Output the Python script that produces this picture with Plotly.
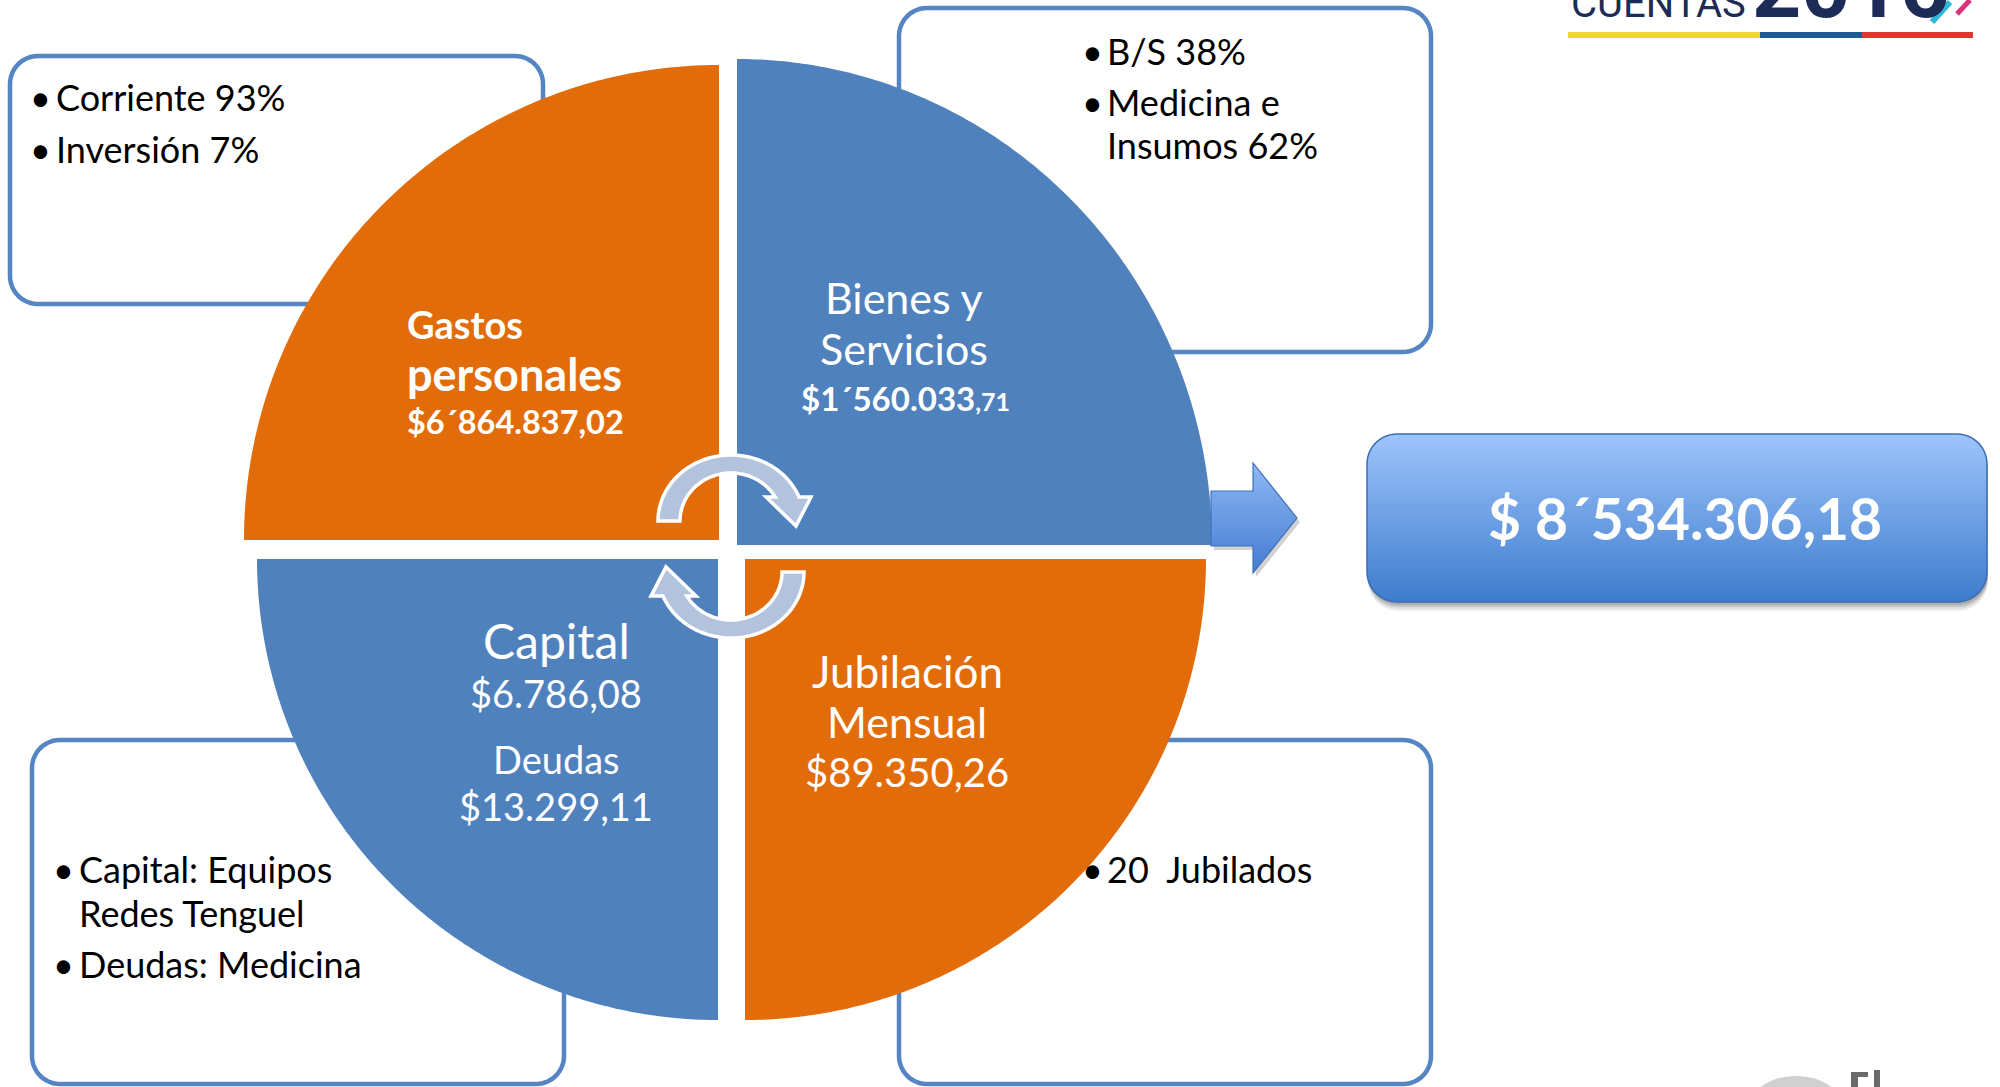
import numpy as np
import plotly.graph_objects as go

# ---------------- data ----------------
categories = ["Gastos personales", "Bienes y Servicios", "Capital", "Jubilación Mensual"]
amounts = ["$6´864.837,02", "$1´560.033,71", "$6.786,08", "$89.350,26"]
debt_label = "Deudas"
debt_amount = "$13.299,11"
total_label = "$ 8´534.306,18"
detail_gastos = [["Corriente 93%"], ["Inversión 7%"]]
detail_bienes = [["B/S 38%"], ["Medicina e", "Insumos 62%"]]
detail_capital = [["Capital: Equipos", "Redes Tenguel"], ["Deudas: Medicina"]]
detail_jubilacion = [["20  Jubilados"]]
logo_words = ["CUENTAS", "2016"]

# ---------------- styling ----------------
W, H = 2000, 1087
ORANGE = "#E36C0A"
BLUE = "#4F81BD"
BOX_LINE = "#5585C2"
FONT = "Lato"

shapes = []
annotations = []


def path_of(pts):
    return "M " + " L ".join(f"{x:.2f},{y:.2f}" for x, y in pts) + " Z"


def arc(cx, cy, rx, ry, t0, t1, n=90):
    t = np.radians(np.linspace(t0, t1, n))
    return list(zip(cx + rx * np.cos(t), cy - ry * np.sin(t)))


def rounded_rect(x0, y0, x1, y1, r, n=14):
    pts = []
    pts += arc(x1 - r, y0 + r, r, r, 90, 0, n)
    pts += arc(x1 - r, y1 - r, r, r, 0, -90, n)
    pts += arc(x0 + r, y1 - r, r, r, -90, -180, n)
    pts += arc(x0 + r, y0 + r, r, r, 180, 90, n)
    return pts


def clip_half(poly, y_lim, keep_greater):
    out = []
    n = len(poly)
    for i in range(n):
        cur = poly[i]
        prev = poly[i - 1]
        cin = cur[1] >= y_lim if keep_greater else cur[1] <= y_lim
        pin = prev[1] >= y_lim if keep_greater else prev[1] <= y_lim
        if cin:
            if not pin:
                t = (y_lim - prev[1]) / (cur[1] - prev[1])
                out.append((prev[0] + t * (cur[0] - prev[0]), y_lim))
            out.append(cur)
        elif pin:
            t = (y_lim - prev[1]) / (cur[1] - prev[1])
            out.append((prev[0] + t * (cur[0] - prev[0]), y_lim))
    return out


def gradient_fill(poly, c_top, c_bot, nb=48):
    ys = [p[1] for p in poly]
    y0, y1 = min(ys), max(ys)
    edges = np.linspace(y0, y1, nb + 1)
    for i in range(nb):
        a, b = edges[i], min(edges[i + 1] + 0.8, y1)
        piece = clip_half(clip_half(poly, a, True), b, False)
        if len(piece) < 3:
            continue
        f = (i + 0.5) / nb
        col = tuple(int(round(c_top[k] + (c_bot[k] - c_top[k]) * f)) for k in range(3))
        shapes.append(dict(type="path", path=path_of(piece), xref="x", yref="y",
                           fillcolor=f"rgb{col}", line=dict(width=0), layer="above"))


def ann(text, x, y, size, color="#000000", xanchor="left", yanchor="middle", bold=False, family=FONT):
    annotations.append(dict(text=f"<b>{text}</b>" if bold else text, x=x, y=y, xref="x", yref="y",
                            showarrow=False, xanchor=xanchor, yanchor=yanchor,
                            font=dict(family=family, size=size, color=color)))


# ---------------- detail boxes (behind circle) ----------------
boxes = [(10, 56, 543, 304), (899, 8, 1431, 352), (32, 740, 564, 1084), (899, 740, 1431, 1084)]
for (x0, y0, x1, y1) in boxes:
    shapes.append(dict(type="path", path=path_of(rounded_rect(x0, y0, x1, y1, 28)), xref="x", yref="y",
                       fillcolor="white", line=dict(color=BOX_LINE, width=4.5), layer="above"))

# ---------------- quadrants ----------------
quads = [  # (cx, cy, rx, ry, t0, t1, color)
    (719, 540, 475, 475, 180, 90, ORANGE),
    (737, 545, 475, 486, 90, 0, BLUE),
    (718, 559, 461, 461, 270, 180, BLUE),
    (745, 559, 461, 461, 0, -90, ORANGE),
]
for cx, cy, rx, ry, t0, t1, col in quads:
    pts = [(cx, cy)] + arc(cx, cy, rx, ry, t0, t1, 160)
    shapes.append(dict(type="path", path=path_of(pts), xref="x", yref="y",
                       fillcolor=col, line=dict(width=0), layer="above"))

# ---------------- circular arrows ----------------
cxa, cya = 731, 521
yb = 497
to_end = np.degrees(np.arcsin((cya - yb) / 66))
ti_end = np.degrees(np.arcsin((cya - yb) / 48))
top_arrow = arc(cxa, cya, 73, 66, 180, to_end, 60) + [(811, 497), (796, 526), (766, 497)] + \
    arc(cxa, cya, 51, 48, ti_end, 180, 60)
bot_arrow = [(2 * cxa - x, 2 * 546.5 - y) for x, y in top_arrow]
for poly in (top_arrow, bot_arrow):
    shapes.append(dict(type="path", path=path_of(poly), xref="x", yref="y",
                       fillcolor="#B3C3DD", line=dict(color="white", width=3.5), layer="above"))

# ---------------- big arrow ----------------
big_arrow = [(1211, 491), (1253, 491), (1253, 463), (1297, 518), (1253, 573), (1253, 546), (1211, 546)]
shadow_arrow = [(x + 3, y + 4) for x, y in big_arrow]
shapes.append(dict(type="path", path=path_of(shadow_arrow), xref="x", yref="y",
                   fillcolor="rgba(0,0,0,0.18)", line=dict(width=0), layer="above"))
gradient_fill(big_arrow, (143, 183, 244), (68, 124, 210))
shapes.append(dict(type="path", path=path_of(big_arrow), xref="x", yref="y",
                   fillcolor="rgba(0,0,0,0)", line=dict(color="#3F72BA", width=1.2), layer="above"))

# ---------------- total box ----------------
tb = (1367, 434, 1987, 602)
for k, a in ((9, 0.06), (7, 0.08), (5, 0.10), (3, 0.12)):
    sh = rounded_rect(tb[0] + 1, tb[1] + k, tb[2] + 1, tb[3] + k, 30)
    shapes.append(dict(type="path", path=path_of(sh), xref="x", yref="y",
                       fillcolor=f"rgba(0,0,0,{a})", line=dict(width=0), layer="above"))
tb_poly = rounded_rect(*tb, 30)
gradient_fill(tb_poly, (158, 196, 251), (62, 124, 205), 60)
shapes.append(dict(type="path", path=path_of(tb_poly), xref="x", yref="y",
                   fillcolor="rgba(0,0,0,0)", line=dict(color="#3C6DB4", width=1.5), layer="above"))

# ---------------- logo (top right, cut by page edge) ----------------
for x0, x1, col in ((1568, 1760, "#F0D23C"), (1760, 1862, "#1F5A96"), (1862, 1973, "#D93A2E")):
    shapes.append(dict(type="line", x0=x0, x1=x1, y0=35, y1=35, xref="x", yref="y",
                       line=dict(color=col, width=6), layer="above"))
ann(logo_words[0], 1569, 29, 40, "#1D2B57", yanchor="bottom", family="Roboto")
ann(logo_words[1], 1750, 40, 86, "#1D2B57", yanchor="bottom", bold=True, family="Roboto")
shapes.append(dict(type="line", x0=1932, x1=1950, y0=22, y1=2, xref="x", yref="y",
                   line=dict(color="#2FB8D6", width=6), layer="above"))
shapes.append(dict(type="line", x0=1957, x1=1970, y0=14, y1=0, xref="x", yref="y",
                   line=dict(color="#D8347A", width=5), layer="above"))

# bottom-right faint logo fragment
shapes.append(dict(type="circle", x0=1752, x1=1840, y0=1076, y1=1130, xref="x", yref="y",
                   fillcolor="#D0D0D0", line=dict(width=0), layer="above"))
shapes.append(dict(type="rect", x0=1851, x1=1858, y0=1072, y1=1090, xref="x", yref="y",
                   fillcolor="#6A6A6A", line=dict(width=0), layer="above"))
shapes.append(dict(type="rect", x0=1851, x1=1868, y0=1072, y1=1077, xref="x", yref="y",
                   fillcolor="#6A6A6A", line=dict(width=0), layer="above"))
shapes.append(dict(type="rect", x0=1874, x1=1880, y0=1070, y1=1090, xref="x", yref="y",
                   fillcolor="#6A6A6A", line=dict(width=0), layer="above"))

# ---------------- texts in detail boxes ----------------
BOX_FS = 36


def bullets(groups, bx, tx, ys):
    k = 0
    for g in groups:
        for j, line in enumerate(g):
            if j == 0:
                ann("•", bx, ys[k], BOX_FS, xanchor="center")
            ann(line, tx, ys[k], BOX_FS)
            k += 1


bullets(detail_gastos, 40, 54, [97, 149])
bullets(detail_bienes, 1092, 1105, [51, 102, 145])
bullets(detail_capital, 63, 77, [869, 913, 964])
bullets(detail_jubilacion, 1092, 1105, [869])

# ---------------- texts in circle ----------------
g1, g2 = categories[0].split(" ")
ann(g1, 405, 324, 38, "white", bold=True)
ann(g2, 405, 374, 45, "white", bold=True)
ann(amounts[0], 405, 421, 32.5, "white", bold=True)

b1 = categories[1].split(" ")
ann(" ".join(b1[:2]), 904, 297, 43, "white", xanchor="center")
ann(b1[2], 904, 348, 43, "white", xanchor="center")
main, cents = amounts[1].split(",")
ann(f"{main}<span style='font-size:25px'>,{cents}</span>", 905, 398, 33, "white", xanchor="center", bold=True)

ann(categories[2], 556, 640, 48, "white", xanchor="center")
ann(amounts[2], 556, 693, 38, "white", xanchor="center")
ann(debt_label, 556, 759, 38, "white", xanchor="center")
ann(debt_amount, 556, 806, 38, "white", xanchor="center")

j1, j2 = categories[3].split(" ")
ann(j1, 907, 671, 44, "white", xanchor="center")
ann(j2, 907, 721, 43, "white", xanchor="center")
ann(amounts[3], 907, 772, 40, "white", xanchor="center")

ann(total_label, 1685, 518, 57, "white", xanchor="center", bold=True)

fig = go.Figure()
fig.update_layout(
    width=W, height=H, autosize=False,
    margin=dict(l=0, r=0, t=0, b=0),
    paper_bgcolor="white", plot_bgcolor="white",
    xaxis=dict(range=[0, W], visible=False, fixedrange=True),
    yaxis=dict(range=[H, 0], visible=False, fixedrange=True),
    shapes=shapes, annotations=annotations, showlegend=False,
)
fig.write_html("out.html", config={"displayModeBar": False},
               post_script="document.body.style.margin='0';document.body.style.overflow='hidden';")
